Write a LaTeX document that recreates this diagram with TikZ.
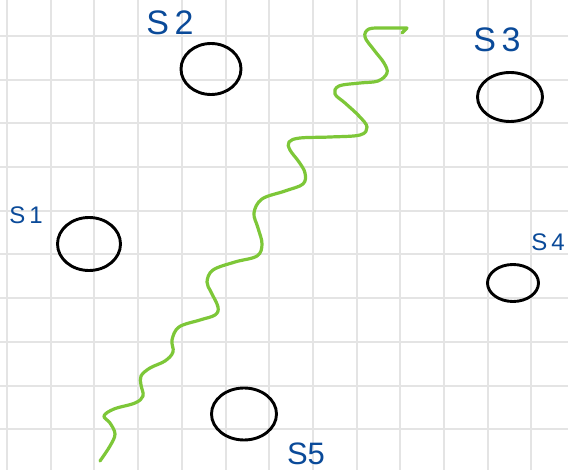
\documentclass[tikz,border=0pt]{standalone}
\usepackage{fontspec}
\setmainfont{Liberation Sans}
\usetikzlibrary{shapes.geometric}
\definecolor{GridClr}{rgb}{0.895,0.895,0.895}
\definecolor{WaveClr}{rgb}{0.49,0.78,0.22}
\definecolor{LabelClr}{rgb}{0.04,0.29,0.6}

\begin{document}
\begin{tikzpicture}[x=1pt,y=-1pt,
  stone/.style={draw=black,line width=2.9pt,ellipse,inner sep=0pt},
  tag/.style={text=LabelClr,inner sep=0pt,font=\fontsize{34}{34}\selectfont},
  smalltag/.style={tag,font=\fontsize{24}{24}\selectfont}]
\useasboundingbox[fill=white] (0,0) rectangle (568,470);

% grid paper
\foreach \k in {0,...,12}
  \draw[GridClr,line width=2pt] ({7+43.7*\k},0) -- ({7+43.7*\k},470);
\foreach \k in {0,...,9}
  \draw[GridClr,line width=2pt] (0,{36+43.7*\k}) -- (568,{36+43.7*\k});

% the stones
\node[stone,minimum width=63pt,minimum height=53pt] (s1) at (89,244) {};
\node[stone,minimum width=60pt,minimum height=51pt] (s2) at (211,69) {};
\node[stone,minimum width=65pt,minimum height=49pt] (s3) at (510,97) {};
\node[stone,minimum width=51pt,minimum height=37pt] (s4) at (513,283) {};
\node[stone,minimum width=65pt,minimum height=52pt] (s5) at (244,414) {};

\node[smalltag] (l1) at (26,215) {S\,1};
\node[tag] (l2) at (170,23) {S\,2};
\node[tag] (l3) at (497,40) {S\,3};
\node[smalltag] (l4) at (548,242) {S\,4};
\node[tag,font=\fontsize{31}{31}\selectfont] (l5) at (306,454) {S5};

% the wave
\draw[WaveClr,line width=3.2pt,line cap=round,line join=round]
  plot[smooth,tension=0.6] coordinates {
  (100,461) (110,446) (115,434) (110,423) (104,416) (114,409) (135,403)
  (143,396) (141,385) (141,376) (150,368) (165,361) (173,352) (172,340)
  (179,327) (200,320) (215,315) (218,307) (211,292) (207,282) (213,270)
  (235,262) (257,256) (262,244) (258,228) (254,213) (262,199) (285,191)
  (303,184) (305,173) (299,162) (290,150) (289,142) (300,138) (330,137)
  (360,135) (367,127) (359,116) (345,103) (335,94) (339,86) (360,83)
  (378,81) (387,73) (384,63) (374,50) (365,37) (369,29) (385,28) (407,28)}
  -- (402,33);
\end{tikzpicture}
\end{document}
